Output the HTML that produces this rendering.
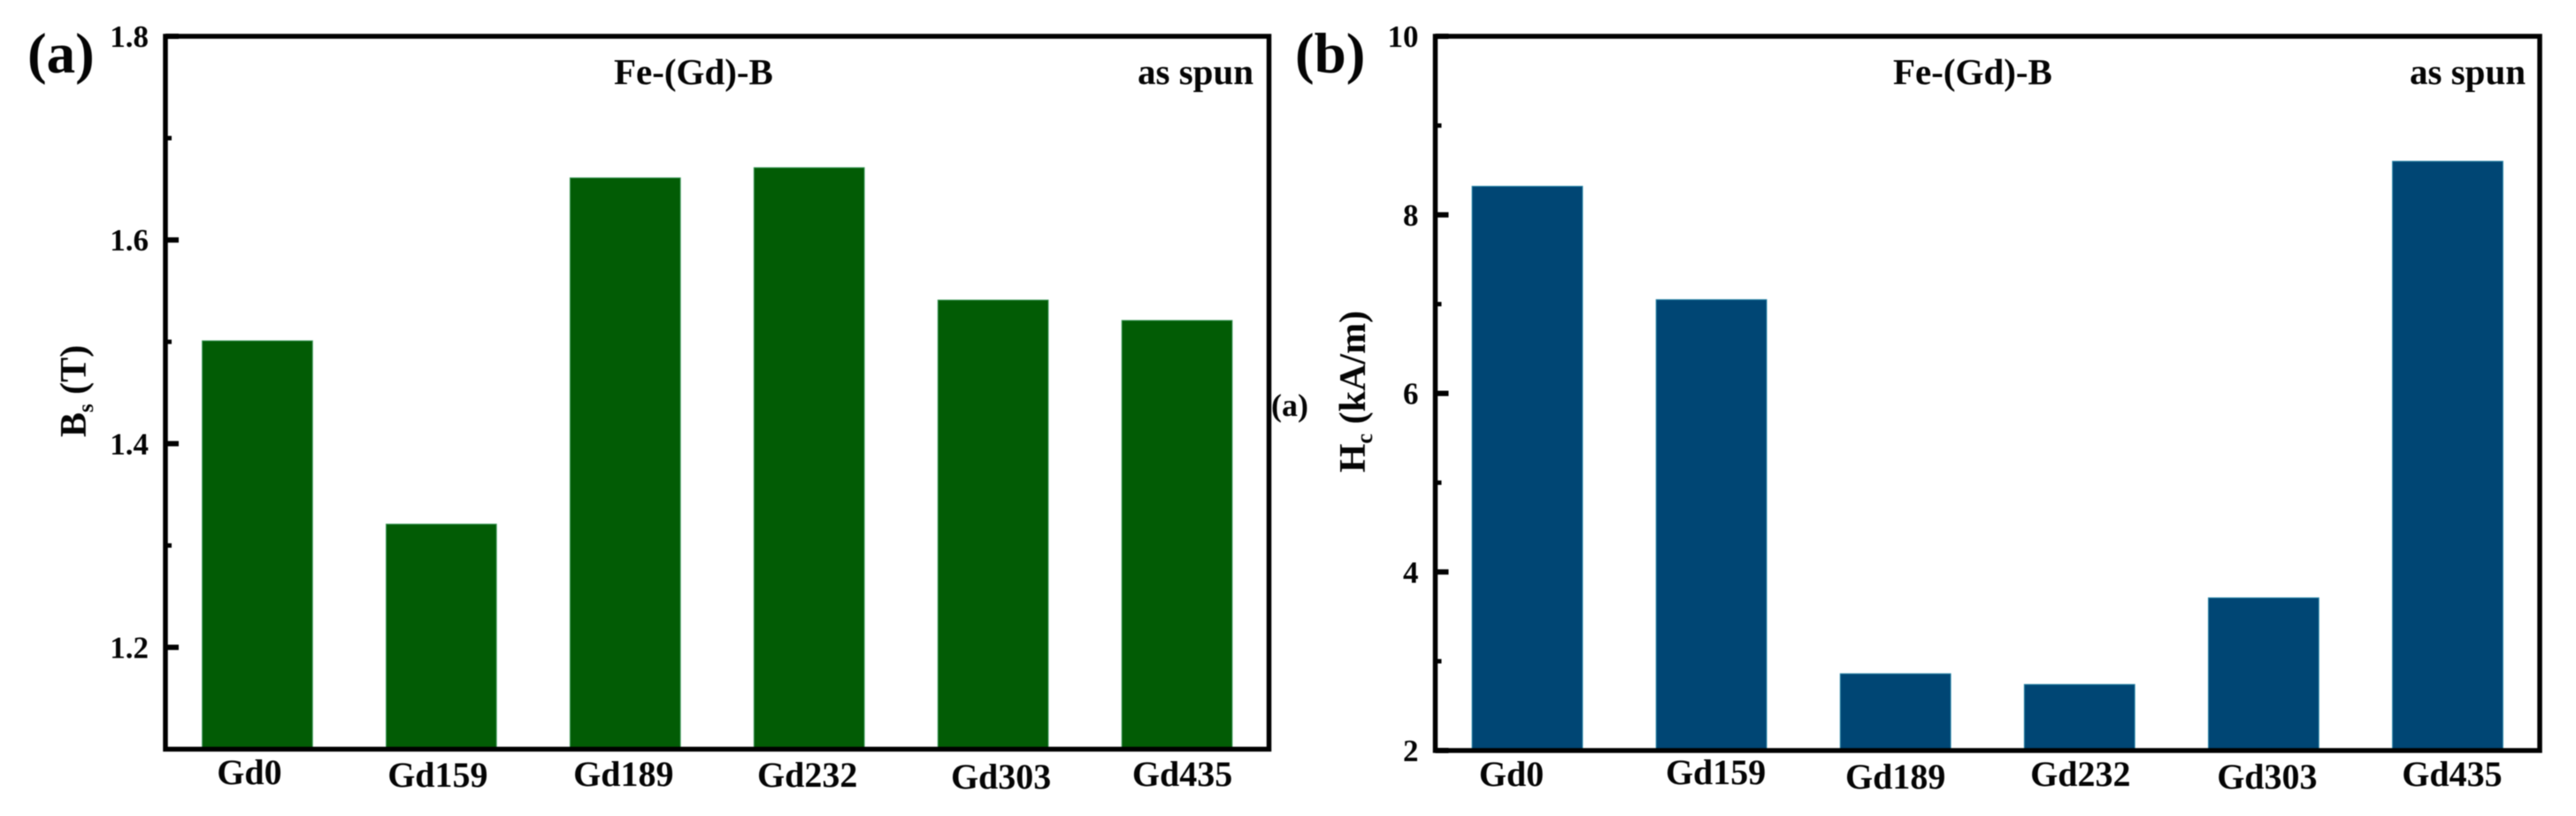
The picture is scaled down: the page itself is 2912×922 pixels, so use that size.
<!DOCTYPE html>
<html lang="en">
<head>
<meta charset="utf-8">
<title>Fe-(Gd)-B as spun: Bs and Hc</title>
<style>
  html, body { margin: 0; padding: 0; background: #fff; }
  svg { display: block; filter: blur(0.5px); }
  text { font-family: "Liberation Serif", serif; font-weight: bold; fill: #050505; }
</style>
</head>
<body>
<svg id="figure" xmlns="http://www.w3.org/2000/svg" width="2912" height="922" viewBox="0 0 2912 922">
  <rect x="0" y="0" width="2912" height="922" fill="#ffffff"/>
  <g id="panel-a"></g>
  <g id="panel-b"></g>

  <text x="31" y="82" font-size="65">(a)</text>
  <text x="1464" y="82" font-size="65">(b)</text>
  <text x="1437" y="470" font-size="36">(a)</text>

  <text x="694" y="95" font-size="41">Fe-(Gd)-B</text>
  <text x="1286" y="95" font-size="41">as spun</text>
  <text x="2140" y="95" font-size="41">Fe-(Gd)-B</text>
  <text x="2724" y="95" font-size="41">as spun</text>

  <text transform="translate(97,494) rotate(-90)" font-size="42">B<tspan font-size="25" dy="8">s</tspan><tspan dy="-8"> (T)</tspan></text>
  <text transform="translate(1543,534) rotate(-90)" font-size="42">H<tspan font-size="26" dy="8">c</tspan><tspan dy="-8"> (kA/m)</tspan></text>
</svg>

<script>
// Shared categories
const categories = ["Gd0", "Gd159", "Gd189", "Gd232", "Gd303", "Gd435"];

// Panel (a): saturation flux density, T
const bsValues = [1.501, 1.321, 1.661, 1.671, 1.541, 1.521];
const bsMajorTicks = [1.2, 1.4, 1.6, 1.8];
const bsMinorTicks = [1.3, 1.5, 1.7];
const bsTickLabels = ["1.2", "1.4", "1.6", "1.8"];

// Panel (b): coercivity, kA/m
const hcValues = [8.32, 7.05, 2.86, 2.74, 3.71, 8.60];
const hcMajorTicks = [2, 4, 6, 8, 10];
const hcMinorTicks = [3, 5, 7, 9];
const hcTickLabels = ["2", "4", "6", "8", "10"];

const SVG_NS = "http://www.w3.org/2000/svg";

function make(parent, tag, attrs, text) {
  const el = document.createElementNS(SVG_NS, tag);
  for (const key in attrs) el.setAttribute(key, attrs[key]);
  if (text !== undefined) el.textContent = text;
  parent.appendChild(el);
  return el;
}

function drawPanel(cfg) {
  const root = document.getElementById(cfg.id);
  const yScale = v => cfg.bottom - (v - cfg.yMin) / (cfg.yMax - cfg.yMin) * (cfg.bottom - cfg.top);
  const band = (cfg.right - cfg.left) / cfg.categories.length;
  const xCenter = i => cfg.left + band * (i + 0.5);
  const barWidth = band * 0.6;

  cfg.values.forEach((v, i) => {
    const y = yScale(v);
    const bar = make(root, "rect", {
      x: xCenter(i) - barWidth / 2,
      y: y,
      width: barWidth,
      height: cfg.bottom - y,
      fill: cfg.color,
      stroke: cfg.edge,
      "stroke-width": 1
    });
    
    
  });

  cfg.majorTicks.forEach((v, i) => {
    const y = yScale(v);
    const tick = make(root, "line", {
      x1: cfg.left, x2: cfg.left + 15, y1: y, y2: y,
      stroke: "#000", "stroke-width": 6
    });
    
    
    const label = make(root, "text", {
      x: cfg.left - 19, y: y + 12,
      "text-anchor": "end", "font-size": 35
    }, cfg.tickLabels[i]);
    
    
  });

  cfg.minorTicks.forEach(v => {
    const y = yScale(v);
    const tick = make(root, "line", {
      x1: cfg.left, x2: cfg.left + 7, y1: y, y2: y,
      stroke: "#000", "stroke-width": 5
    });
    
    
  });

  cfg.categories.forEach((name, i) => {
    const label = make(root, "text", {
      x: xCenter(i) + cfg.labelNudgeX[i],
      y: cfg.labelBaselines[i],
      "text-anchor": "middle", "font-size": 40
    }, name);
    
    
  });

  const frame = make(root, "rect", {
    x: cfg.left, y: cfg.top,
    width: cfg.right - cfg.left, height: cfg.bottom - cfg.top,
    fill: "none", stroke: "#000", "stroke-width": 5.5
  });
  
  
}

drawPanel({
  id: "panel-a",
  left: 187, right: 1434.5, top: 41, bottom: 846.5,
  yMin: 1.1, yMax: 1.8,
  color: "#025c05",
  edge: "#3f9a5c",
  categories: categories,
  values: bsValues,
  majorTicks: bsMajorTicks,
  minorTicks: bsMinorTicks,
  tickLabels: bsTickLabels,
  labelNudgeX: [-9, -4, -2, -2, 9, 6],
  labelBaselines: [886, 889, 888, 889, 891, 888]
});

drawPanel({
  id: "panel-b",
  left: 1622.5, right: 2871, top: 41, bottom: 848,
  yMin: 2, yMax: 10,
  color: "#004674",
  edge: "#2a86a8",
  categories: categories,
  values: hcValues,
  majorTicks: hcMajorTicks,
  minorTicks: hcMinorTicks,
  tickLabels: hcTickLabels,
  labelNudgeX: [-18, 5, 0, 1, 4, 5],
  labelBaselines: [888, 886, 891, 888, 891, 888]
});
</script>
</body>
</html>
